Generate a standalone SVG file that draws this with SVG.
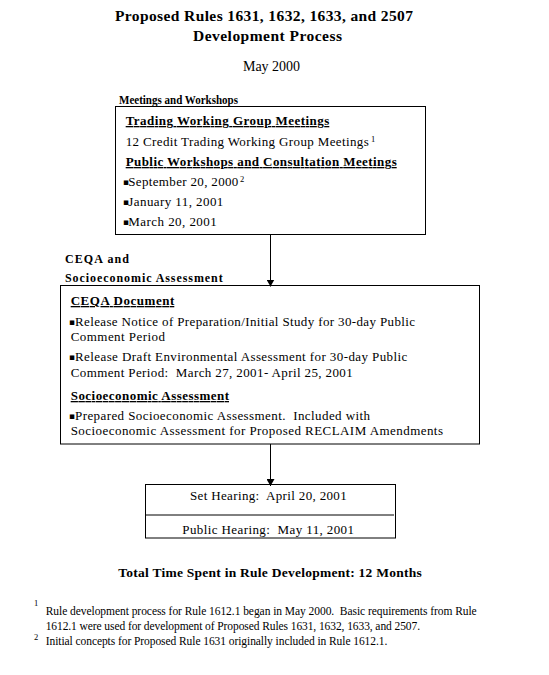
<svg xmlns="http://www.w3.org/2000/svg" width="549" height="675" viewBox="0 0 549 675">
<style>
.t{font-family:"Liberation Serif","Times New Roman",serif;fill:#000;font-size:13px}
.b{font-weight:bold}
.u{text-decoration:underline}
.box{fill:none;stroke:#000;stroke-width:1}
.ln{stroke:#000;stroke-width:1;fill:none}
.bul{font-family:"DejaVu Sans",sans-serif;font-size:9px}
.sup{font-size:8.5px}
.fn{font-size:11.5px}
</style>
<defs>
<marker id="arr" markerUnits="userSpaceOnUse" markerWidth="8" markerHeight="8" refX="7" refY="4" orient="auto">
<path d="M0,0 L7,4 L0,8 z" fill="#000"/>
</marker>
</defs>
<rect width="549" height="675" fill="#fff"/>

<g id="title">
<text class="t b" x="115" y="21" style="font-size:15.5px" textLength="298" lengthAdjust="spacing">Proposed Rules 1631, 1632, 1633, and 2507</text>
<text class="t b" x="193" y="41" style="font-size:15.5px" textLength="149" lengthAdjust="spacing">Development Process</text>
<text class="t" x="243" y="71" style="font-size:14px" textLength="57" lengthAdjust="spacing">May 2000</text>
</g>

<g id="meetings">
<text class="t b" x="119" y="104" style="font-size:11.5px" textLength="119" lengthAdjust="spacingAndGlyphs">Meetings and Workshops</text>
<rect class="box" x="115.5" y="106.5" width="310" height="128"/>
<text class="t b u" x="125.7" y="125" textLength="203.6" lengthAdjust="spacing">Trading Working Group Meetings</text>
<text class="t" x="125.7" y="146" textLength="243" lengthAdjust="spacing">12 Credit Trading Working Group Meetings</text>
<text class="t sup" x="371" y="142">1</text>
<text class="t b u" x="125.7" y="166" textLength="271" lengthAdjust="spacing">Public Workshops and Consultation Meetings</text>
<text class="t"><tspan class="bul" x="123" y="185">▪</tspan><tspan x="128.3" y="186" textLength="110" lengthAdjust="spacing">September 20, 2000</tspan></text>
<text class="t sup" x="240" y="182">2</text>
<text class="t"><tspan class="bul" x="123" y="205">▪</tspan><tspan x="128.3" y="206" textLength="95" lengthAdjust="spacing">January 11, 2001</tspan></text>
<text class="t"><tspan class="bul" x="123" y="225">▪</tspan><tspan x="128.3" y="226" textLength="88.4" lengthAdjust="spacing">March 20, 2001</tspan></text>
</g>

<g id="ceqa">
<text class="t b" x="65" y="263" style="font-size:12px" textLength="64" lengthAdjust="spacing">CEQA and</text>
<text class="t b" x="65" y="282" style="font-size:12px" textLength="157.7" lengthAdjust="spacing">Socioeconomic Assessment</text>
<rect class="box" x="60.5" y="285.5" width="419" height="158.5"/>
<text class="t b u" x="70.7" y="305" textLength="103.6" lengthAdjust="spacing">CEQA Document</text>
<text class="t"><tspan class="bul" x="69" y="325">▪</tspan><tspan x="75" y="326" textLength="340" lengthAdjust="spacing">Release Notice of Preparation/Initial Study for 30-day Public</tspan></text>
<text class="t" x="70.7" y="341" textLength="94.3" lengthAdjust="spacing">Comment Period</text>
<text class="t"><tspan class="bul" x="69" y="360">▪</tspan><tspan x="75" y="361" textLength="332.3" lengthAdjust="spacing">Release Draft Environmental Assessment for 30-day Public</tspan></text>
<text class="t" x="70.7" y="377" textLength="282" lengthAdjust="spacing" xml:space="preserve">Comment Period:  March 27, 2001- April 25, 2001</text>
<text class="t b u" x="70.7" y="400" textLength="158.3" lengthAdjust="spacing">Socioeconomic Assessment</text>
<text class="t"><tspan class="bul" x="69" y="419">▪</tspan><tspan x="75" y="420" textLength="295" lengthAdjust="spacing" xml:space="preserve">Prepared Socioeconomic Assessment.  Included with</tspan></text>
<text class="t" x="70.7" y="435" textLength="372.3" lengthAdjust="spacing">Socioeconomic Assessment for Proposed RECLAIM Amendments</text>
</g>

<g id="hearing">
<rect class="box" x="145.5" y="484.5" width="250" height="53.5"/>
<line class="ln" x1="145.5" y1="515" x2="394" y2="515"/>
<text class="t" x="190" y="500" textLength="156.7" lengthAdjust="spacing" xml:space="preserve">Set Hearing:  April 20, 2001</text>
<text class="t" x="182.3" y="534" textLength="171.7" lengthAdjust="spacing" xml:space="preserve">Public Hearing:  May 11, 2001</text>
</g>

<g id="connectors">
<line class="ln" x1="270.5" y1="234.5" x2="270.5" y2="286.5" marker-end="url(#arr)"/>
<line class="ln" x1="270.5" y1="444" x2="270.5" y2="486" marker-end="url(#arr)"/>
</g>

<g id="total">
<text class="t b" x="118.3" y="577" style="font-size:13.5px" textLength="303.4" lengthAdjust="spacing">Total Time Spent in Rule Development: 12 Months</text>
</g>

<g id="footnotes">
<text class="t sup" x="34" y="606">1</text>
<text class="t fn" x="45.7" y="615" textLength="431" lengthAdjust="spacing" xml:space="preserve">Rule development process for Rule 1612.1 began in May 2000.  Basic requirements from Rule</text>
<text class="t fn" x="45.7" y="630" textLength="374.3" lengthAdjust="spacing">1612.1 were used for development of Proposed Rules 1631, 1632, 1633, and 2507.</text>
<text class="t sup" x="34" y="640">2</text>
<text class="t fn" x="45.7" y="645" textLength="341.6" lengthAdjust="spacing">Initial concepts for Proposed Rule 1631 originally included in Rule 1612.1.</text>
</g>
</svg>
